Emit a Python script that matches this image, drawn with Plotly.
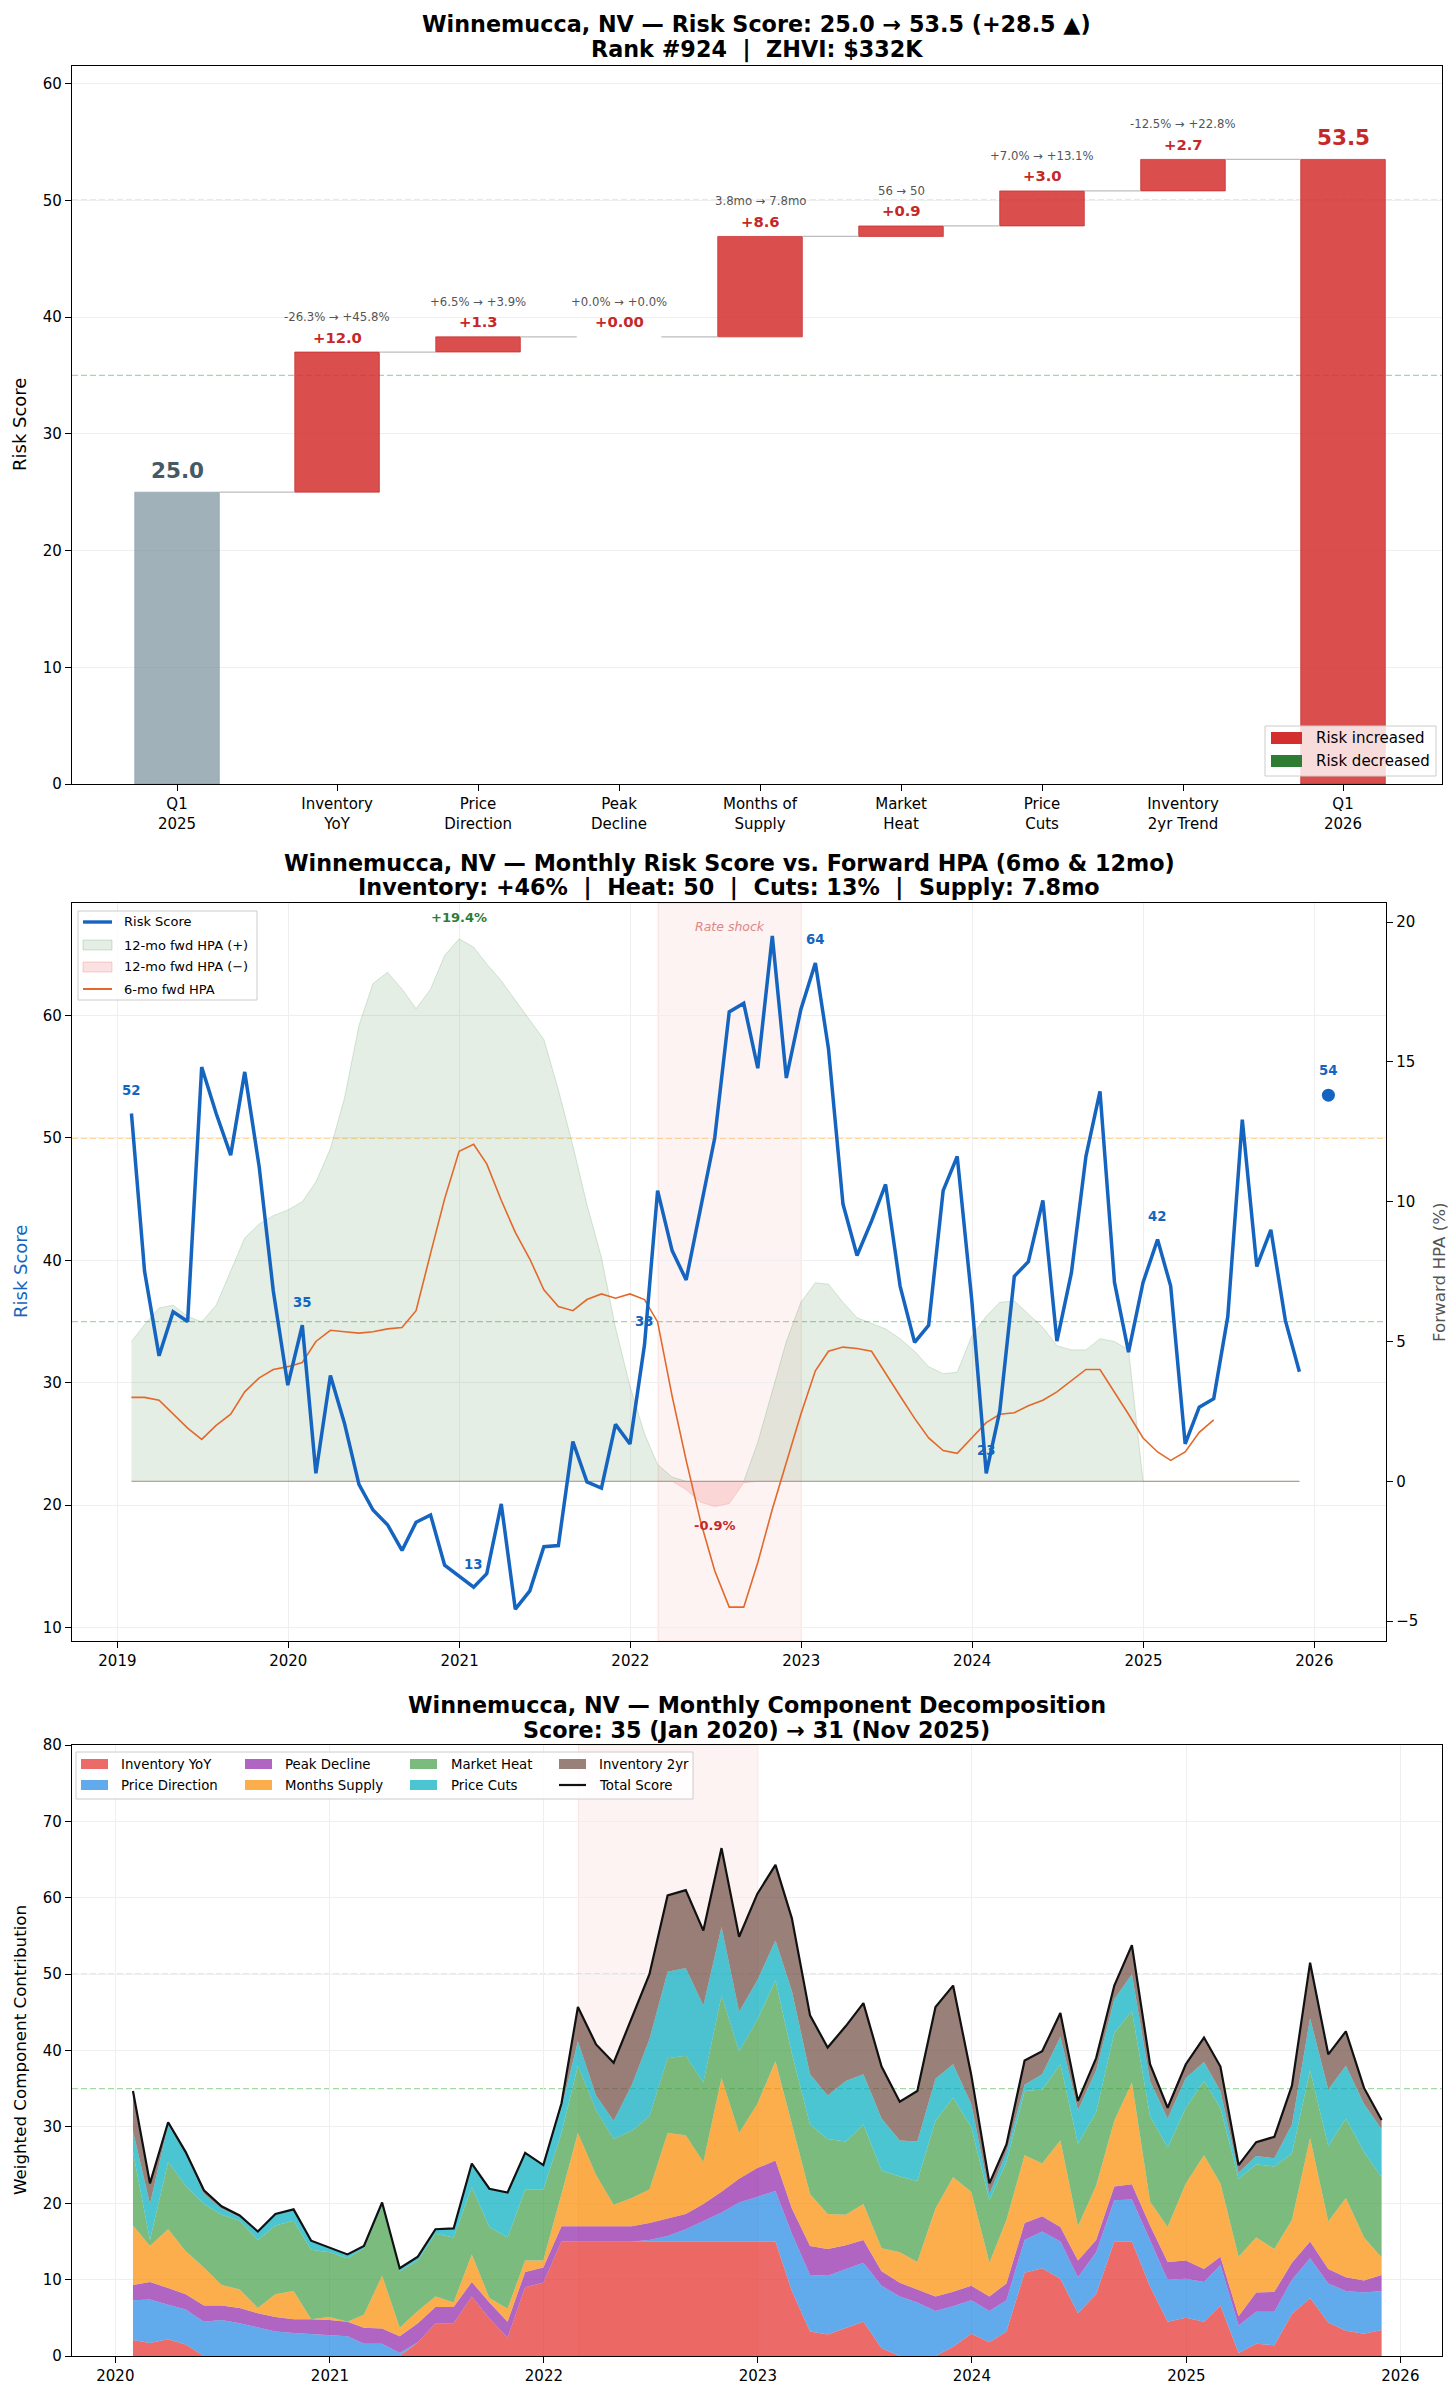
import pandas as pd
import plotly.graph_objects as go

W, H = 1456, 2401
OFF = 8  # page body margin of the written html page
FONT = "DejaVu Sans"

# ---------------- Panel 1 data (waterfall) ----------------
wf_categories = ["Q1<br>2025", "Inventory<br>YoY", "Price<br>Direction", "Peak<br>Decline",
                 "Months of<br>Supply", "Market<br>Heat", "Price<br>Cuts", "Inventory<br>2yr Trend", "Q1<br>2026"]
start_score = 25.0
end_score = 53.5
comp_deltas = [12.0, 1.3, 0.0, 8.6, 0.9, 3.0, 2.7]
comp_delta_text = ["+12.0", "+1.3", "+0.00", "+8.6", "+0.9", "+3.0", "+2.7"]
comp_change_text = ["-26.3% → +45.8%", "+6.5% → +3.9%", "+0.0% → +0.0%", "3.8mo → 7.8mo",
                    "56 → 50", "+7.0% → +13.1%", "-12.5% → +22.8%"]
rank_text = "Rank #924"
zhvi_text = "ZHVI: $332K"

# ---------------- Panel 2 data (monthly, Jan 2019 - Nov 2025) ----------------
risk_score = [
    52.0, 39.1, 32.2, 35.8, 35.0, 55.8, 52.0, 48.6, 55.4, 47.6, 37.5, 29.8,   # 2019
    34.7, 22.6, 30.6, 26.7, 21.7, 19.6, 18.4, 16.3, 18.6, 19.2, 15.1, 14.2,   # 2020
    13.3, 14.4, 20.1, 11.5, 13.0, 16.6, 16.7, 25.2, 21.9, 21.4, 26.6, 25.0,   # 2021
    33.1, 45.7, 40.8, 38.4, 44.2, 50.0, 60.3, 61.0, 55.7, 66.5, 54.9, 60.5,   # 2022
    64.3, 57.3, 44.6, 40.4, 43.2, 46.2, 37.9, 33.3, 34.7, 45.7, 48.5, 36.8,   # 2023
    22.6, 27.7, 38.7, 39.9, 44.9, 33.4, 39.0, 48.5, 53.8, 38.2, 32.5, 38.2,   # 2024
    41.7, 37.9, 25.0, 28.0, 28.7, 35.4, 51.5, 39.5, 42.5, 35.1, 30.9,         # 2025
]
hpa_12mo = [   # Jan 2019 - Nov 2024
    5.0, 5.6, 6.2, 6.3, 5.9, 5.7, 6.3, 7.5, 8.7, 9.2, 9.5, 9.7,
    10.0, 10.7, 11.9, 13.7, 16.3, 17.8, 18.2, 17.6, 16.9, 17.6, 18.8, 19.4,
    19.1, 18.5, 17.9, 17.2, 16.5, 15.8, 14.0, 12.0, 9.9, 8.0, 5.5, 3.4,
    1.7, 0.6, 0.15, -0.3, -0.75, -0.9, -0.8, -0.05, 1.4, 3.2, 5.0, 6.4,
    7.1, 7.05, 6.4, 5.85, 5.65, 5.45, 5.1, 4.65, 4.1, 3.85, 3.9, 5.2,
    5.9, 6.4, 6.45, 6.0, 5.5, 4.85, 4.7, 4.7, 5.1, 5.0, 4.7,
]
hpa_6mo = [    # Jan 2019 - May 2025
    3.0, 3.0, 2.9, 2.4, 1.9, 1.5, 2.0, 2.4, 3.2, 3.7, 4.0, 4.1,
    4.25, 5.0, 5.4, 5.35, 5.3, 5.35, 5.45, 5.5, 6.1, 8.15, 10.1, 11.8,
    12.05, 11.35, 10.05, 8.9, 7.95, 6.85, 6.25, 6.1, 6.5, 6.7, 6.55, 6.7,
    6.5, 5.7, 3.05, 0.75, -1.45, -3.2, -4.5, -4.5, -2.9, -1.0, 0.7, 2.4,
    3.95, 4.65, 4.8, 4.75, 4.65, 3.85, 3.05, 2.25, 1.55, 1.1, 1.0, 1.55,
    2.1, 2.4, 2.45, 2.7, 2.9, 3.2, 3.6, 4.0, 4.0, 3.2, 2.4, 1.55,
    1.05, 0.75, 1.05, 1.75, 2.2,
]
q1_2026_score = 53.5
q1_2026_date = "2026-01-31"
rate_shock_start = "2022-03-01"
rate_shock_end = "2023-01-01"
hpa_subtitle = "Inventory: +46% \u00a0|\u00a0 Heat: 50 \u00a0|\u00a0 Cuts: 13% \u00a0|\u00a0 Supply: 7.8mo"

# ---------------- Panel 3 data (components, Jan 2020 - Nov 2025) ----------------
inventory_yoy = [
    2.1, 1.7, 2.2, 1.5, 0, 0, 0, 0, 0, 0, 0, 0,
    0, 0, 0, 0, 1.8, 4.3, 4.3, 7.8, 4.9, 2.4, 9.0, 9.6,
    15, 15, 15, 15, 15, 15, 15, 15, 15, 15, 15, 15,
    15, 8.5, 3.2, 2.8, 3.7, 4.5, 1.0, 0, 0, 0, 1.2, 2.9,
    1.8, 3.2, 10.9, 11.5, 10.1, 5.6, 8.1, 15.0, 15.0, 9.1, 4.5, 5.0,
    4.5, 6.6, 0.4, 1.6, 1.4, 5.5, 7.6, 4.4, 3.3, 2.9, 3.4,
]
price_direction = [
    5.2, 5.7, 4.5, 4.6, 4.5, 4.7, 4.3, 3.7, 3.2, 3.0, 2.9, 2.8,
    2.6, 1.6, 1.6, 0.4, 0, 0, 0, 0, 0, 0, 0, 0,
    0, 0, 0, 0, 0, 0.2, 0.7, 1.6, 2.7, 3.8, 5.1, 5.8,
    6.6, 7.5, 7.4, 7.7, 7.7, 7.7, 8.2, 7.8, 7.0, 5.9, 5.3, 4.4,
    4.1, 4.1, 4.3, 4.8, 4.9, 4.7, 5.5, 5.4, 5.5, 6.1, 5.5, 5.1,
    5.2, 5.3, 3.6, 4.2, 4.4, 4.5, 5.2, 5.1, 5.2, 5.4, 5.1,
]
peak_decline = [
    2.0, 2.3, 2.2, 2.0, 2.1, 1.9, 2.0, 1.9, 1.9, 1.8, 1.9, 1.9,
    1.9, 2.1, 2.0, 2.2, 2.5, 2.1, 2.1, 1.9, 2.1, 2.1, 2.0, 2.0,
    2.0, 2.0, 2.0, 2.0, 2.0, 2.2, 2.3, 2.0, 2.2, 2.7, 3.1, 3.8,
    4.0, 3.3, 3.8, 3.5, 3.1, 3.0, 1.9, 1.8, 1.7, 1.9, 1.9, 1.9,
    1.9, 2.2, 2.2, 2.0, 1.9, 2.2, 1.6, 1.8, 2.0, 1.9, 2.3, 2.4,
    1.7, 1.1, 1.2, 2.5, 2.6, 2.2, 2.2, 1.9, 1.8, 1.6, 2.1,
]
months_supply = [
    7.8, 4.7, 7.7, 5.6, 5.0, 2.7, 2.4, 0.7, 3.0, 3.7, 0.0, 0.4,
    0.0, 1.7, 6.9, 1.1, 1.6, 1.4, 0.6, 3.6, 0.6, 1.7, 1.5, 0.9,
    4.2, 12.2, 6.7, 2.8, 3.7, 4.4, 11.2, 10.3, 5.5, 14.9, 6.0, 8.4,
    13.0, 11.2, 6.8, 4.6, 4.0, 4.7, 3.0, 4.0, 3.6, 11.5, 15.0, 12.3,
    4.4, 8.3, 8.9, 6.9, 11.3, 4.5, 7.1, 8.6, 13.3, 3.1, 4.6, 10.1,
    14.9, 9.6, 7.8, 7.2, 5.6, 5.6, 13.5, 6.2, 10.4, 5.6, 2.3,
]
market_heat = [
    9.6, 0.8, 8.8, 8.6, 8.3, 9.2, 9.0, 8.9, 9.0, 9.2, 9.1, 8.5,
    8.3, 8.7, 9.1, 7.4, 6.6, 8.2, 8.5, 8.8, 9.3, 9.3, 9.3, 9.3,
    8.0, 8.8, 8.5, 8.6, 8.8, 9.6, 9.8, 10.4, 10.4, 10.8, 10.7, 11.0,
    10.6, 9.1, 9.1, 9.8, 9.6, 10.4, 10.2, 9.9, 10.6, 11.5, 10.4, 8.5,
    8.2, 7.6, 8.4, 9.7, 10.0, 10.8, 9.6, 11.5, 9.4, 11.2, 10.4, 9.9,
    9.7, 9.9, 10.2, 9.6, 10.8, 8.7, 8.9, 9.9, 10.4, 11.2, 10.5,
]
price_cuts = [
    2.8, 4.7, 4.9, 4.2, 1.3, 0.8, 0.5, 1.1, 1.5, 1.5, 1.2, 0.6,
    0.5, 0.3, 0.5, 0.4, 0.5, 0.6, 1.2, 3.1, 5.0, 5.9, 4.8, 3.2,
    3.3, 3.2, 1.9, 2.4, 6.0, 10.1, 11.3, 11.5, 10.1, 9.0, 5.2, 5.2,
    5.2, 8.2, 6.6, 5.7, 7.9, 6.6, 6.8, 4.7, 5.2, 5.5, 4.4, 3.0,
    0.8, 1.3, 0.8, 2.0, 3.6, 4.4, 5.5, 4.4, 4.8, 4.6, 3.8, 3.9,
    2.5, 2.2, 0.8, 1.1, 1.1, 3.8, 6.8, 7.4, 6.9, 6.3, 6.3,
]
inventory_2yr = [
    5.2, 2.7, 0.3, 0.2, 0.5, 0.3, 0.2, 0, 0, 0, 0, 0,
    0, 0, 0, 0, 0, 0, 0, 0, 0, 0, 0, 0,
    0.6, 4.5, 6.7, 7.6, 8.7, 8.5, 10.0, 10.2, 9.8, 10.3, 9.8, 11.3,
    9.9, 9.5, 7.7, 6.3, 7.2, 9.3, 6.8, 5.1, 6.6, 9.4, 10.3, 3.8,
    1.4, 1.0, 3.2, 3.0, 3.1, 1.2, 1.6, 1.8, 3.8, 2.2, 1.4, 1.8,
    3.2, 3.2, 1.0, 1.8, 2.8, 5.1, 7.3, 4.6, 4.5, 2.1, 1.2,
]
component_names = ["Inventory YoY", "Price Direction", "Peak Decline", "Months Supply",
                   "Market Heat", "Price Cuts", "Inventory 2yr"]
component_values = [inventory_yoy, price_direction, peak_decline, months_supply,
                    market_heat, price_cuts, inventory_2yr]
component_colors = ["rgba(229,57,53,0.75)", "rgba(30,136,229,0.7)", "rgba(142,36,170,0.7)",
                    "rgba(251,140,0,0.7)", "rgba(67,160,71,0.7)", "rgba(0,172,193,0.7)",
                    "rgba(109,76,65,0.7)"]

# ---------------- helpers ----------------
RED = "#d32f2f"
RED_BAR = "rgba(211,47,47,0.85)"
GREEN = "#2e7d32"
BLUE = "#1565c0"
ORANGE = "#e2692b"
TITLE_SIZE = 22.3
dates = pd.date_range("2019-01-31", periods=len(risk_score), freq="ME")
comp_dates = dates[12:]

shapes, annotations = [], []


def fx(x):
    return (x - OFF) / W


def fy(y):
    return 1 - (y - OFF) / H


def pline(x0, y0, x1, y1, color, width, dash="solid"):
    shapes.append(dict(type="line", xref="paper", yref="paper", x0=fx(x0), x1=fx(x1),
                       y0=fy(y0), y1=fy(y1), line=dict(color=color, width=width, dash=dash),
                       layer="above"))


def prect(x0, y0, x1, y1, fill, line_color=None, lw=0):
    shapes.append(dict(type="rect", xref="paper", yref="paper", x0=fx(x0), x1=fx(x1),
                       y0=fy(y1), y1=fy(y0), fillcolor=fill,
                       line=dict(color=line_color or fill, width=lw), layer="above"))


def ptext(x, y, text, size, color="#000000", xanchor="center", angle=0):
    annotations.append(dict(xref="paper", yref="paper", x=fx(x), y=fy(y), text=text,
                            showarrow=False, xanchor=xanchor, yanchor="middle", textangle=angle,
                            font=dict(family=FONT, size=size, color=color)))


fig = go.Figure()

# ================= Panel 1: waterfall =================
xpos = [0, 1.135, 2.135, 3.135, 4.135, 5.135, 6.135, 7.135, 8.27]
cum = [start_score]
for d in comp_deltas:
    cum.append(round(cum[-1] + d, 2))

fig.add_trace(go.Bar(x=[xpos[0]], y=[start_score], base=[0], width=0.6, xaxis="x", yaxis="y",
                     marker=dict(color="rgba(120,144,156,0.7)", line=dict(color="rgba(120,144,156,0.5)", width=1)),
                     showlegend=False, hoverinfo="skip"))
for i, d in enumerate(comp_deltas):
    col = RED_BAR if d >= 0 else "rgba(46,125,50,0.85)"
    fig.add_trace(go.Bar(x=[xpos[i + 1]], y=[abs(d)], base=[min(cum[i], cum[i + 1])], width=0.6,
                         xaxis="x", yaxis="y",
                         marker=dict(color=col, line=dict(color="rgba(198,40,40,0.7)", width=1 if d != 0 else 0)),
                         showlegend=False, hoverinfo="skip"))
    top = max(cum[i], cum[i + 1])
    annotations.append(dict(xref="x", yref="y", x=xpos[i + 1], y=top, text="<b>" + comp_delta_text[i] + "</b>",
                            showarrow=False, yanchor="middle", yshift=15,
                            font=dict(family=FONT, size=14.8, color="#c62828")))
    annotations.append(dict(xref="x", yref="y", x=xpos[i + 1], y=top, text=comp_change_text[i],
                            showarrow=False, yanchor="middle", yshift=35,
                            font=dict(family=FONT, size=11.7, color="#555555")))
fig.add_trace(go.Bar(x=[xpos[-1]], y=[end_score], base=[0], width=0.6, xaxis="x", yaxis="y",
                     marker=dict(color=RED_BAR, line=dict(color="rgba(198,40,40,0.7)", width=1)),
                     showlegend=False, hoverinfo="skip"))
annotations.append(dict(xref="x", yref="y", x=xpos[0], y=start_score, text=f"<b>{start_score:.1f}</b>",
                        showarrow=False, yanchor="middle", yshift=22,
                        font=dict(family=FONT, size=21.5, color="#455a64")))
annotations.append(dict(xref="x", yref="y", x=xpos[-1], y=end_score, text=f"<b>{end_score:.1f}</b>",
                        showarrow=False, yanchor="middle", yshift=22,
                        font=dict(family=FONT, size=21.5, color="#c62828")))
# connectors
for i in range(len(xpos) - 1):
    shapes.append(dict(type="line", xref="x", yref="y", x0=xpos[i] + 0.3, x1=xpos[i + 1] - 0.3,
                       y0=cum[i], y1=cum[i], line=dict(color="#bdbdbd", width=1.2), layer="above"))
# threshold lines
for yv, c in [(50, "rgba(255,152,0,0.5)"), (35, "rgba(76,175,80,0.5)")]:
    shapes.append(dict(type="line", xref="x domain", yref="y", x0=0, x1=1, y0=yv, y1=yv,
                       line=dict(color=c, width=1.3, dash="6px,3px"), layer="below"))
    shapes.append(dict(type="line", xref="x2 domain", yref="y3", x0=0, x1=1, y0=yv, y1=yv,
                       line=dict(color=c, width=1.3, dash="6px,3px"), layer="below"))
    shapes.append(dict(type="line", xref="x3 domain", yref="y4", x0=0, x1=1, y0=yv, y1=yv,
                       line=dict(color=c, width=1.3, dash="6px,3px"), layer="below"))

# ================= Panel 2 =================
shapes.append(dict(type="rect", xref="x2", yref="y2 domain", x0=rate_shock_start, x1=rate_shock_end,
                   y0=0, y1=1, fillcolor="rgba(239,83,80,0.07)", line=dict(color="rgba(239,83,80,0.15)", width=1),
                   layer="below"))
shapes.append(dict(type="rect", xref="x3", yref="y4 domain", x0=rate_shock_start, x1=rate_shock_end,
                   y0=0, y1=1, fillcolor="rgba(239,83,80,0.07)", line=dict(color="rgba(239,83,80,0.12)", width=1),
                   layer="below"))

n = len(risk_score)
hpa12_full = hpa_12mo + [None] * (n - len(hpa_12mo))
hpa12_pos = [max(v, 0) if v is not None else 0 for v in hpa12_full]
hpa12_neg = [min(v, 0) if v is not None else 0 for v in hpa12_full]
fig.add_trace(go.Scatter(x=dates, y=hpa12_pos, xaxis="x2", yaxis="y2", mode="lines", fill="tozeroy",
                         fillcolor="rgba(46,125,50,0.13)", line=dict(color="rgba(46,125,50,0.18)", width=1),
                         showlegend=False, hoverinfo="skip"))
fig.add_trace(go.Scatter(x=dates, y=hpa12_neg, xaxis="x2", yaxis="y2", mode="lines", fill="tozeroy",
                         fillcolor="rgba(229,57,53,0.15)", line=dict(color="rgba(229,57,53,0.15)", width=1),
                         showlegend=False, hoverinfo="skip"))
fig.add_trace(go.Scatter(x=[dates[0], dates[-1]], y=[0, 0], xaxis="x2", yaxis="y2", mode="lines",
                         line=dict(color="rgba(140,115,105,0.55)", width=1.3), showlegend=False, hoverinfo="skip"))
fig.add_trace(go.Scatter(x=dates[:len(hpa_6mo)], y=hpa_6mo, xaxis="x2", yaxis="y2", mode="lines",
                         line=dict(color=ORANGE, width=1.6), showlegend=False, hoverinfo="skip"))
fig.add_trace(go.Scatter(x=dates, y=risk_score, xaxis="x2", yaxis="y3", mode="lines",
                         line=dict(color=BLUE, width=3.5), showlegend=False, hoverinfo="skip"))
fig.add_trace(go.Scatter(x=[q1_2026_date], y=[q1_2026_score], xaxis="x2", yaxis="y3", mode="markers",
                         marker=dict(color=BLUE, size=13), showlegend=False, hoverinfo="skip"))

for d, v in zip(dates, risk_score):
    if d.month == 1:
        annotations.append(dict(xref="x2", yref="y3", x=d, y=v, text=f"<b>{v:.0f}</b>", showarrow=False,
                                yanchor="middle", yshift=23, font=dict(family=FONT, size=13.3, color=BLUE)))
annotations.append(dict(xref="x2", yref="y3", x=q1_2026_date, y=q1_2026_score, text=f"<b>{round(q1_2026_score):d}</b>",
                        showarrow=False, yanchor="middle", yshift=25, font=dict(family=FONT, size=13.3, color=BLUE)))
valid = [(v, d) for v, d in zip(hpa_12mo, dates)]
vmax, dmax = max(valid, key=lambda t: t[0])
vmin, dmin = min(valid, key=lambda t: t[0])
annotations.append(dict(xref="x2", yref="y2", x=dmax, y=vmax, text=f"<b>+{vmax:.1f}%</b>", showarrow=False,
                        yanchor="middle", yshift=21, font=dict(family=FONT, size=13, color=GREEN)))
annotations.append(dict(xref="x2", yref="y2", x=dmin, y=vmin, text=f"<b>{vmin:.1f}%</b>", showarrow=False,
                        yanchor="middle", yshift=-19, font=dict(family=FONT, size=13, color="#c62828")))
mid_shock = pd.Timestamp(rate_shock_start) + (pd.Timestamp(rate_shock_end) - pd.Timestamp(rate_shock_start)) / 2
annotations.append(dict(xref="x2", yref="paper", x=mid_shock, y=fy(926), text="<i>Rate shock</i>",
                        showarrow=False, yanchor="middle", font=dict(family=FONT, size=12.5, color="#e08585")))

# ================= Panel 3 =================
for name, vals, col in zip(component_names, component_values, component_colors):
    fig.add_trace(go.Scatter(x=comp_dates, y=vals, xaxis="x3", yaxis="y4", mode="lines", stackgroup="comp",
                             fillcolor=col, line=dict(width=0, color=col), name=name,
                             showlegend=False, hoverinfo="skip"))
fig.add_trace(go.Scatter(x=comp_dates, y=risk_score[12:], xaxis="x3", yaxis="y4", mode="lines",
                         line=dict(color="#111111", width=2.2), showlegend=False, hoverinfo="skip"))

# ================= Titles =================
delta = end_score - start_score
ptext(757, 24, f"<b>Winnemucca, NV — Risk Score: {start_score:.1f} → {end_score:.1f} ({delta:+.1f} ▲)</b>", TITLE_SIZE)
ptext(757, 49, f"<b>{rank_text} \u00a0|\u00a0 {zhvi_text}</b>", TITLE_SIZE)
ptext(729, 863, "<b>Winnemucca, NV — Monthly Risk Score vs. Forward HPA (6mo &amp; 12mo)</b>", TITLE_SIZE)
ptext(729, 888, f"<b>{hpa_subtitle}</b>", TITLE_SIZE)
ptext(757, 1705, "<b>Winnemucca, NV — Monthly Component Decomposition</b>", TITLE_SIZE)
first_lbl = f"{risk_score[12]:.0f} ({comp_dates[0].strftime('%b %Y')})"
last_lbl = f"{risk_score[-1]:.0f} ({comp_dates[-1].strftime('%b %Y')})"
ptext(757, 1730, f"<b>Score: {first_lbl} → {last_lbl}</b>", TITLE_SIZE)

# axis titles
ptext(20, 425, "Risk Score", 18, "#000000", angle=-90)
ptext(20, 1272, "Risk Score", 18, BLUE, angle=-90)
ptext(1439, 1272, "Forward HPA (%)", 16.7, "#555555", angle=-90)
ptext(20, 2050, "Weighted Component Contribution", 16.7, "#000000", angle=-90)

# ================= Legends (drawn) =================
# Panel 1
prect(1265, 726, 1436, 776, "rgba(255,255,255,0.8)", "#cccccc", 1)
prect(1271, 732, 1302, 744, RED)
prect(1271, 755, 1302, 767, GREEN)
ptext(1314, 738, "Risk increased", 15, xanchor="left")
ptext(1314, 761, "Risk decreased", 15, xanchor="left")
# Panel 2
prect(78, 911, 257, 1000, "rgba(255,255,255,0.8)", "#cccccc", 1)
pline(83, 922, 112, 922, BLUE, 3.4)
prect(83, 940, 112, 950, "rgba(46,125,50,0.13)", "rgba(46,125,50,0.2)", 1)
prect(83, 962, 112, 972, "rgba(229,57,53,0.15)", "rgba(229,57,53,0.2)", 1)
pline(83, 989, 112, 989, ORANGE, 2)
for yy, t in [(922, "Risk Score"), (945, "12-mo fwd HPA (+)"), (967, "12-mo fwd HPA (−)"), (989, "6-mo fwd HPA")]:
    ptext(122, yy, t, 13, xanchor="left")
# Panel 3
prect(76, 1752, 693, 1799, "rgba(255,255,255,0.8)", "#cccccc", 1)
legend_slots = [(81, 119, 1764), (81, 119, 1785), (245, 283, 1764), (245, 283, 1785),
                (410, 449, 1764), (410, 449, 1785), (559, 597, 1764)]
for (px0, tx, yy), name, col in zip(legend_slots, component_names, component_colors):
    prect(px0, yy - 5, px0 + 27, yy + 5, col)
    ptext(tx, yy, name, 13.3, xanchor="left")
pline(559, 1785, 586, 1785, "#111111", 2.2)
ptext(597, 1785, "Total Score", 13.3, xanchor="left")


# ================= Layout =================
def dom_y(top, bottom):
    return [fy(bottom), fy(top)]


def dom_x(left, right):
    return [fx(left), fx(right)]


axis_common = dict(showline=True, linecolor="#000000", linewidth=1.3, ticks="outside", ticklen=6,
                   tickcolor="#000000", tickwidth=1.1, tickfont=dict(family=FONT, size=15, color="#000000"),
                   automargin=False, zeroline=False, gridcolor="#efefef", gridwidth=1)

fig.update_layout(
    width=W, height=H, autosize=False, margin=dict(l=0, r=0, t=0, b=0),
    paper_bgcolor="white", plot_bgcolor="white", barmode="overlay", showlegend=False,
    font=dict(family=FONT),
    xaxis=dict(axis_common, domain=dom_x(72, 1442), anchor="y", range=[-0.745, 8.972],
               tickmode="array", tickvals=xpos, ticktext=wf_categories, showgrid=False, mirror=True),
    yaxis=dict(axis_common, domain=dom_y(66, 784), anchor="x", range=[0, 61.5],
               tickmode="array", tickvals=list(range(0, 61, 10)), showgrid=True, mirror=True),
    xaxis2=dict(axis_common, domain=dom_x(72, 1386), anchor="y2", type="date",
                range=["2018-09-26", "2026-06-03"], tickmode="array",
                tickvals=[f"{y}-01-01" for y in range(2019, 2027)], ticktext=[str(y) for y in range(2019, 2027)],
                showgrid=True, mirror=True),
    yaxis2=dict(axis_common, domain=dom_y(903, 1641), anchor="x2", side="right", range=[-5.71, 20.68],
                tickmode="array", tickvals=[-5, 0, 5, 10, 15, 20], ticktext=["−5", "0", "5", "10", "15", "20"],
                showgrid=False),
    yaxis3=dict(axis_common, overlaying="y2", anchor="x2", side="left", range=[8.9, 69.2],
                tickmode="array", tickvals=list(range(10, 61, 10)), showgrid=True),
    xaxis3=dict(axis_common, domain=dom_x(72, 1442), anchor="y4", type="date",
                range=["2019-10-19", "2026-03-13"], tickmode="array",
                tickvals=[f"{y}-01-01" for y in range(2020, 2027)], ticktext=[str(y) for y in range(2020, 2027)],
                showgrid=True, mirror=True),
    yaxis4=dict(axis_common, domain=dom_y(1745, 2356), anchor="x3", range=[0, 80],
                tickmode="array", tickvals=list(range(0, 81, 10)), showgrid=True, mirror=True),
    shapes=shapes, annotations=annotations,
)

fig.write_html("out.html")
